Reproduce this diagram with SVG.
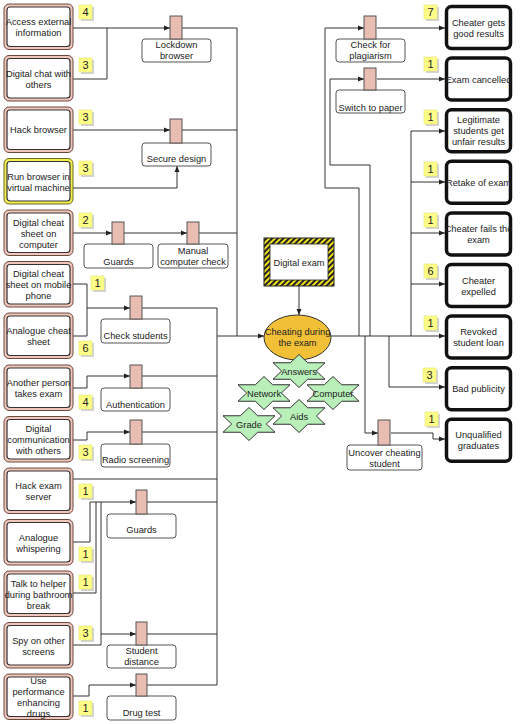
<svg xmlns="http://www.w3.org/2000/svg" xmlns:xlink="http://www.w3.org/1999/xlink" width="520" height="724" viewBox="0 0 520 724">
<style>
text{font-family:"Liberation Sans",Arial,sans-serif;font-size:9.3px;fill:#222;text-anchor:middle}
.badge text{font-size:11px}
.outer{fill:#f0c6ba;stroke:#6a4a40;stroke-width:1}
.outerY{fill:#f4ee50;stroke:#6a6a20;stroke-width:1}
.inner{fill:#fff;stroke:#333;stroke-width:1.2}
.res{fill:#fff;stroke:#111;stroke-width:3.5}
.bar{fill:#e9bdb2;stroke:#555;stroke-width:1}
.lbl{fill:#fff;stroke:#555;stroke-width:1}
.bg{fill:#ffff88;stroke:#e0e060;stroke-width:0.5}
.sh{fill:#c8c8c8;opacity:0.8}
.star{fill:#b9f0b9;stroke:#333;stroke-width:1}
#connectors path{fill:none;stroke:#333;stroke-width:1}
</style>
<defs>
<marker id="a" viewBox="0 0 6 6" refX="6" refY="3" markerWidth="6" markerHeight="6" orient="auto" markerUnits="userSpaceOnUse"><path d="M0,0.5 L6,3 L0,5.5z" fill="#222"/></marker>
<pattern id="hatch" width="4" height="4" patternUnits="userSpaceOnUse" patternTransform="rotate(45)"><rect width="4" height="4" fill="#efe020"/><rect width="2" height="4" fill="#222"/></pattern>
<path id="st" d="M0,-16.5 L8.67,-8.25 L26,-8.25 L17.33,0 L26,8.25 L8.67,8.25 L0,16.5 L-8.67,8.25 L-26,8.25 L-17.33,0 L-26,-8.25 L-8.67,-8.25Z"/>
</defs>
<rect width="520" height="724" fill="#fff"/>

<g id="connectors">
<path d="M73,28 H170" marker-end="url(#a)"/>
<path d="M73,79 H107 V28"/>
<path d="M182,28 H237 V336"/>
<path d="M73,130 H170" marker-end="url(#a)"/>
<path d="M182,130 H237"/>
<path d="M73,188 H177 V166" marker-end="url(#a)"/>
<path d="M73,233 H112" marker-end="url(#a)"/>
<path d="M124,233 H187" marker-end="url(#a)"/>
<path d="M199,233 H237"/>
<path d="M73,284 H87 V336 H73"/>
<path d="M87,308 H130" marker-end="url(#a)"/>
<path d="M142,308 H217 V685"/>
<path d="M217,336 H264" marker-end="url(#a)"/>
<path d="M73,388 H87 V376 H130" marker-end="url(#a)"/>
<path d="M142,376 H217"/>
<path d="M73,440 H87 V432 H130" marker-end="url(#a)"/>
<path d="M142,432 H217"/>
<path d="M73,479 H217"/>
<path d="M90,502 H136" marker-end="url(#a)"/>
<path d="M73,542 H90 V502"/>
<path d="M73,593 H96 V502"/>
<path d="M73,645 H101 V502"/>
<path d="M101,634 H136" marker-end="url(#a)"/>
<path d="M147,502 H217"/>
<path d="M147,634 H217"/>
<path d="M73,696 H89 V685 H136" marker-end="url(#a)"/>
<path d="M147,685 H217"/>
<path d="M299,286 V315" marker-end="url(#a)"/>
<path d="M331,336 H445" marker-end="url(#a)"/>
<path d="M359,336 V188 H325 V28 H364" marker-end="url(#a)"/>
<path d="M377,28 H445" marker-end="url(#a)"/>
<path d="M370,336 V165 H330 V79 H364" marker-end="url(#a)"/>
<path d="M377,79 H445" marker-end="url(#a)"/>
<path d="M411,336 V131 H445" marker-end="url(#a)"/>
<path d="M411,182 H445" marker-end="url(#a)"/>
<path d="M411,233 H445" marker-end="url(#a)"/>
<path d="M411,284 H445" marker-end="url(#a)"/>
<path d="M365,336 V433 H378" marker-end="url(#a)"/>
<path d="M391,433 H433 V439 H445" marker-end="url(#a)"/>
<path d="M389,336 V387 H445" marker-end="url(#a)"/>
</g>

<!-- Left threat nodes -->
<g id="n-access"><rect class="outer" x="4" y="4" width="69" height="45.5" rx="5"/><rect class="inner" x="7" y="7" width="63" height="39.5" rx="3"/><text x="38.5" y="25">Access external</text><text x="38.5" y="36">information</text></g>
<g id="n-chat"><rect class="outer" x="4" y="55.5" width="69" height="45.5" rx="5"/><rect class="inner" x="7" y="58.5" width="63" height="39.5" rx="3"/><text x="38.5" y="76.5">Digital chat with</text><text x="38.5" y="87.5">others</text></g>
<g id="n-hack"><rect class="outer" x="4" y="107" width="69" height="45.5" rx="5"/><rect class="inner" x="7" y="110" width="63" height="39.5" rx="3"/><text x="38.5" y="133">Hack browser</text></g>
<g id="n-vm"><rect class="outerY" x="4" y="158.5" width="69" height="45.5" rx="5"/><rect class="inner" x="7" y="161.5" width="63" height="39.5" rx="3"/><text x="38.5" y="179.5">Run browser in</text><text x="38.5" y="190.5">virtual machine</text></g>
<g id="n-comp"><rect class="outer" x="4" y="210" width="69" height="45.5" rx="5"/><rect class="inner" x="7" y="213" width="63" height="39.5" rx="3"/><text x="38.5" y="225.5">Digital cheat</text><text x="38.5" y="236.5">sheet on</text><text x="38.5" y="247.5">computer</text></g>
<g id="n-phone"><rect class="outer" x="4" y="261.5" width="69" height="45.5" rx="5"/><rect class="inner" x="7" y="264.5" width="63" height="39.5" rx="3"/><text x="38.5" y="277">Digital cheat</text><text x="38.5" y="288">sheet on mobile</text><text x="38.5" y="299">phone</text></g>
<g id="n-analog"><rect class="outer" x="4" y="313" width="69" height="45.5" rx="5"/><rect class="inner" x="7" y="316" width="63" height="39.5" rx="3"/><text x="38.5" y="334">Analogue cheat</text><text x="38.5" y="345">sheet</text></g>
<g id="n-another"><rect class="outer" x="4" y="365" width="69" height="45.5" rx="5"/><rect class="inner" x="7" y="368" width="63" height="39.5" rx="3"/><text x="38.5" y="386">Another person</text><text x="38.5" y="397">takes exam</text></g>
<g id="n-dcomm"><rect class="outer" x="4" y="416.5" width="69" height="45.5" rx="5"/><rect class="inner" x="7" y="419.5" width="63" height="39.5" rx="3"/><text x="38.5" y="432">Digital</text><text x="38.5" y="443">communication</text><text x="38.5" y="454">with others</text></g>
<g id="n-server"><rect class="outer" x="4" y="468" width="69" height="45.5" rx="5"/><rect class="inner" x="7" y="471" width="63" height="39.5" rx="3"/><text x="38.5" y="489">Hack exam</text><text x="38.5" y="500">server</text></g>
<g id="n-whisper"><rect class="outer" x="4" y="519.5" width="69" height="45.5" rx="5"/><rect class="inner" x="7" y="522.5" width="63" height="39.5" rx="3"/><text x="38.5" y="540.5">Analogue</text><text x="38.5" y="551.5">whispering</text></g>
<g id="n-helper"><rect class="outer" x="4" y="571" width="69" height="45.5" rx="5"/><rect class="inner" x="7" y="574" width="63" height="39.5" rx="3"/><text x="38.5" y="586.5">Talk to helper</text><text x="38.5" y="597.5">during bathroom</text><text x="38.5" y="608.5">break</text></g>
<g id="n-spy"><rect class="outer" x="4" y="622.5" width="69" height="45.5" rx="5"/><rect class="inner" x="7" y="625.5" width="63" height="39.5" rx="3"/><text x="38.5" y="643.5">Spy on other</text><text x="38.5" y="654.5">screens</text></g>
<g id="n-drugs"><rect class="outer" x="4" y="674" width="69" height="45.5" rx="5"/><rect class="inner" x="7" y="677" width="63" height="39.5" rx="3"/><text x="38.5" y="683.5">Use</text><text x="38.5" y="694.5">performance</text><text x="38.5" y="705.5">enhancing</text><text x="38.5" y="716.5">drugs</text></g>

<!-- Badges -->
<g class="badge" id="badges">
<g><rect class="sh" x="81" y="7" width="13" height="14"/><rect class="bg" x="79" y="5" width="13" height="14"/><text x="85.5" y="16">4</text></g>
<g><rect class="sh" x="81" y="60" width="13" height="14"/><rect class="bg" x="79" y="58" width="13" height="14"/><text x="85.5" y="69">3</text></g>
<g><rect class="sh" x="81" y="112" width="13" height="14"/><rect class="bg" x="79" y="110" width="13" height="14"/><text x="85.5" y="121">3</text></g>
<g><rect class="sh" x="81" y="163" width="13" height="14"/><rect class="bg" x="79" y="161" width="13" height="14"/><text x="85.5" y="172">3</text></g>
<g><rect class="sh" x="81" y="215" width="13" height="14"/><rect class="bg" x="79" y="213" width="13" height="14"/><text x="85.5" y="224">2</text></g>
<g><rect class="sh" x="93" y="278" width="13" height="14"/><rect class="bg" x="91" y="276" width="13" height="14"/><text x="97.5" y="287">1</text></g>
<g><rect class="sh" x="81" y="343" width="13" height="14"/><rect class="bg" x="79" y="341" width="13" height="14"/><text x="85.5" y="352">6</text></g>
<g><rect class="sh" x="81" y="397" width="13" height="14"/><rect class="bg" x="79" y="395" width="13" height="14"/><text x="85.5" y="406">4</text></g>
<g><rect class="sh" x="81" y="447" width="13" height="14"/><rect class="bg" x="79" y="445" width="13" height="14"/><text x="85.5" y="456">3</text></g>
<g><rect class="sh" x="81" y="486" width="13" height="14"/><rect class="bg" x="79" y="484" width="13" height="14"/><text x="85.5" y="495">1</text></g>
<g><rect class="sh" x="81" y="549" width="13" height="14"/><rect class="bg" x="79" y="547" width="13" height="14"/><text x="85.5" y="558">1</text></g>
<g><rect class="sh" x="81" y="577" width="13" height="14"/><rect class="bg" x="79" y="575" width="13" height="14"/><text x="85.5" y="586">1</text></g>
<g><rect class="sh" x="81" y="628" width="13" height="14"/><rect class="bg" x="79" y="626" width="13" height="14"/><text x="85.5" y="637">3</text></g>
<g><rect class="sh" x="81" y="703" width="13" height="14"/><rect class="bg" x="79" y="701" width="13" height="14"/><text x="85.5" y="712">1</text></g>
<g><rect class="sh" x="426" y="7" width="13" height="14"/><rect class="bg" x="424" y="5" width="13" height="14"/><text x="430.5" y="16">7</text></g>
<g><rect class="sh" x="426" y="59" width="13" height="14"/><rect class="bg" x="424" y="57" width="13" height="14"/><text x="430.5" y="68">1</text></g>
<g><rect class="sh" x="426" y="112" width="13" height="14"/><rect class="bg" x="424" y="110" width="13" height="14"/><text x="430.5" y="121">1</text></g>
<g><rect class="sh" x="426" y="164" width="13" height="14"/><rect class="bg" x="424" y="162" width="13" height="14"/><text x="430.5" y="173">1</text></g>
<g><rect class="sh" x="426" y="215" width="13" height="14"/><rect class="bg" x="424" y="213" width="13" height="14"/><text x="430.5" y="224">1</text></g>
<g><rect class="sh" x="426" y="266" width="13" height="14"/><rect class="bg" x="424" y="264" width="13" height="14"/><text x="430.5" y="275">6</text></g>
<g><rect class="sh" x="426" y="318" width="13" height="14"/><rect class="bg" x="424" y="316" width="13" height="14"/><text x="430.5" y="327">1</text></g>
<g><rect class="sh" x="425" y="370" width="13" height="14"/><rect class="bg" x="423" y="368" width="13" height="14"/><text x="429.5" y="379">3</text></g>
<g><rect class="sh" x="427" y="414" width="13" height="14"/><rect class="bg" x="425" y="412" width="13" height="14"/><text x="431.5" y="423">1</text></g>
</g>

<!-- Controls -->
<g id="c-lockdown"><rect class="lbl" x="142" y="39" width="69" height="23" rx="3"/><rect class="bar" x="170" y="16" width="12" height="23"/><text x="176.5" y="47.5">Lockdown</text><text x="176.5" y="58.5">browser</text></g>
<g id="c-secure"><rect class="lbl" x="142" y="143" width="69" height="23" rx="3"/><rect class="bar" x="170" y="119" width="12" height="24"/><text x="176.5" y="161.5">Secure design</text></g>
<g id="c-guards1"><rect class="lbl" x="84" y="244" width="69" height="24" rx="3"/><rect class="bar" x="112" y="222" width="12" height="22"/><text x="118.5" y="264.5">Guards</text></g>
<g id="c-manual"><rect class="lbl" x="158" y="244" width="70" height="24" rx="3"/><rect class="bar" x="187" y="222" width="12" height="22"/><text x="193" y="253.5">Manual</text><text x="193" y="264.5">computer check</text></g>
<g id="c-checkstud"><rect class="lbl" x="101" y="319" width="69" height="24" rx="3"/><rect class="bar" x="130" y="296" width="12" height="23"/><text x="135.5" y="338.5">Check students</text></g>
<g id="c-auth"><rect class="lbl" x="101" y="388" width="69" height="23" rx="3"/><rect class="bar" x="130" y="365" width="12" height="23"/><text x="135.5" y="407.5">Authentication</text></g>
<g id="c-radio"><rect class="lbl" x="101" y="444" width="69" height="23" rx="3"/><rect class="bar" x="130" y="420" width="12" height="24"/><text x="135.5" y="462.5">Radio screening</text></g>
<g id="c-guards2"><rect class="lbl" x="107" y="514" width="69" height="24" rx="3"/><rect class="bar" x="136" y="490" width="11" height="24"/><text x="141.5" y="532.5">Guards</text></g>
<g id="c-distance"><rect class="lbl" x="107" y="645" width="69" height="23" rx="3"/><rect class="bar" x="136" y="622" width="11" height="23"/><text x="141.5" y="654">Student</text><text x="141.5" y="664.5">distance</text></g>
<g id="c-drug"><rect class="lbl" x="107" y="696" width="69" height="24" rx="3"/><rect class="bar" x="136" y="674" width="11" height="22"/><text x="141.5" y="715.5">Drug test</text></g>
<g id="c-plag"><rect class="lbl" x="336" y="39" width="69" height="23" rx="3"/><rect class="bar" x="364" y="16" width="12" height="23"/><text x="370.5" y="47.5">Check for</text><text x="370.5" y="58.5">plagiarism</text></g>
<g id="c-paper"><rect class="lbl" x="336" y="90" width="69" height="23" rx="3"/><rect class="bar" x="364" y="68" width="12" height="22"/><text x="370.5" y="110.5">Switch to paper</text></g>
<g id="c-uncover"><rect class="lbl" x="347" y="445" width="75" height="25" rx="3"/><rect class="bar" x="378" y="420" width="12" height="25"/><text x="384.5" y="456">Uncover cheating</text><text x="384.5" y="466.5">student</text></g>

<!-- Centre -->
<g id="n-digital"><rect x="264" y="238" width="70" height="48" fill="url(#hatch)" stroke="#222" stroke-width="1"/><rect x="270" y="244" width="58" height="36" fill="#fff" stroke="#222" stroke-width="0.8"/><text x="299" y="266">Digital exam</text></g>
<g id="n-cheating"><ellipse cx="297.5" cy="337.5" rx="33.5" ry="22.5" fill="#f2c037" stroke="#333" stroke-width="1"/><text x="297.5" y="335">Cheating during</text><text x="297.5" y="346">the exam</text></g>
<g id="s-answers"><use xlink:href="#st" class="star" x="299" y="371"/><text x="299" y="374.5">Answers</text></g>
<g id="s-network"><use xlink:href="#st" class="star" x="264" y="393"/><text x="264" y="396.5">Network</text></g>
<g id="s-computer"><use xlink:href="#st" class="star" x="333" y="393"/><text x="333" y="396.5">Computer</text></g>
<g id="s-grade"><use xlink:href="#st" class="star" x="249" y="424"/><text x="249" y="427.5">Grade</text></g>
<g id="s-aids"><use xlink:href="#st" class="star" x="299" y="416"/><text x="299" y="419.5">Aids</text></g>

<!-- Right consequence nodes -->
<g id="r-good"><rect class="res" x="446.5" y="6.5" width="64" height="42" rx="5"/><text x="478.5" y="25.5">Cheater gets</text><text x="478.5" y="36.5">good results</text></g>
<g id="r-cancel"><rect class="res" x="446.5" y="58" width="64" height="42" rx="5"/><text x="478.5" y="82.5">Exam cancelled</text></g>
<g id="r-legit"><rect class="res" x="446.5" y="109.7" width="64" height="42" rx="5"/><text x="478.5" y="123">Legitimate</text><text x="478.5" y="134">students get</text><text x="478.5" y="145">unfair results</text></g>
<g id="r-retake"><rect class="res" x="446.5" y="161.3" width="64" height="42" rx="5"/><text x="478.5" y="185.5">Retake of exam</text></g>
<g id="r-fails"><rect class="res" x="446.5" y="212.9" width="64" height="42" rx="5"/><text x="478.5" y="231.5">Cheater fails the</text><text x="478.5" y="242.5">exam</text></g>
<g id="r-expelled"><rect class="res" x="446.5" y="264.5" width="64" height="42" rx="5"/><text x="478.5" y="283.5">Cheater</text><text x="478.5" y="294.5">expelled</text></g>
<g id="r-loan"><rect class="res" x="446.5" y="316.1" width="64" height="42" rx="5"/><text x="478.5" y="335">Revoked</text><text x="478.5" y="346">student loan</text></g>
<g id="r-publicity"><rect class="res" x="446.5" y="367.7" width="64" height="42" rx="5"/><text x="478.5" y="392">Bad publicity</text></g>
<g id="r-unqual"><rect class="res" x="446.5" y="419.3" width="64" height="42" rx="5"/><text x="478.5" y="438">Unqualified</text><text x="478.5" y="449">graduates</text></g>
</svg>
